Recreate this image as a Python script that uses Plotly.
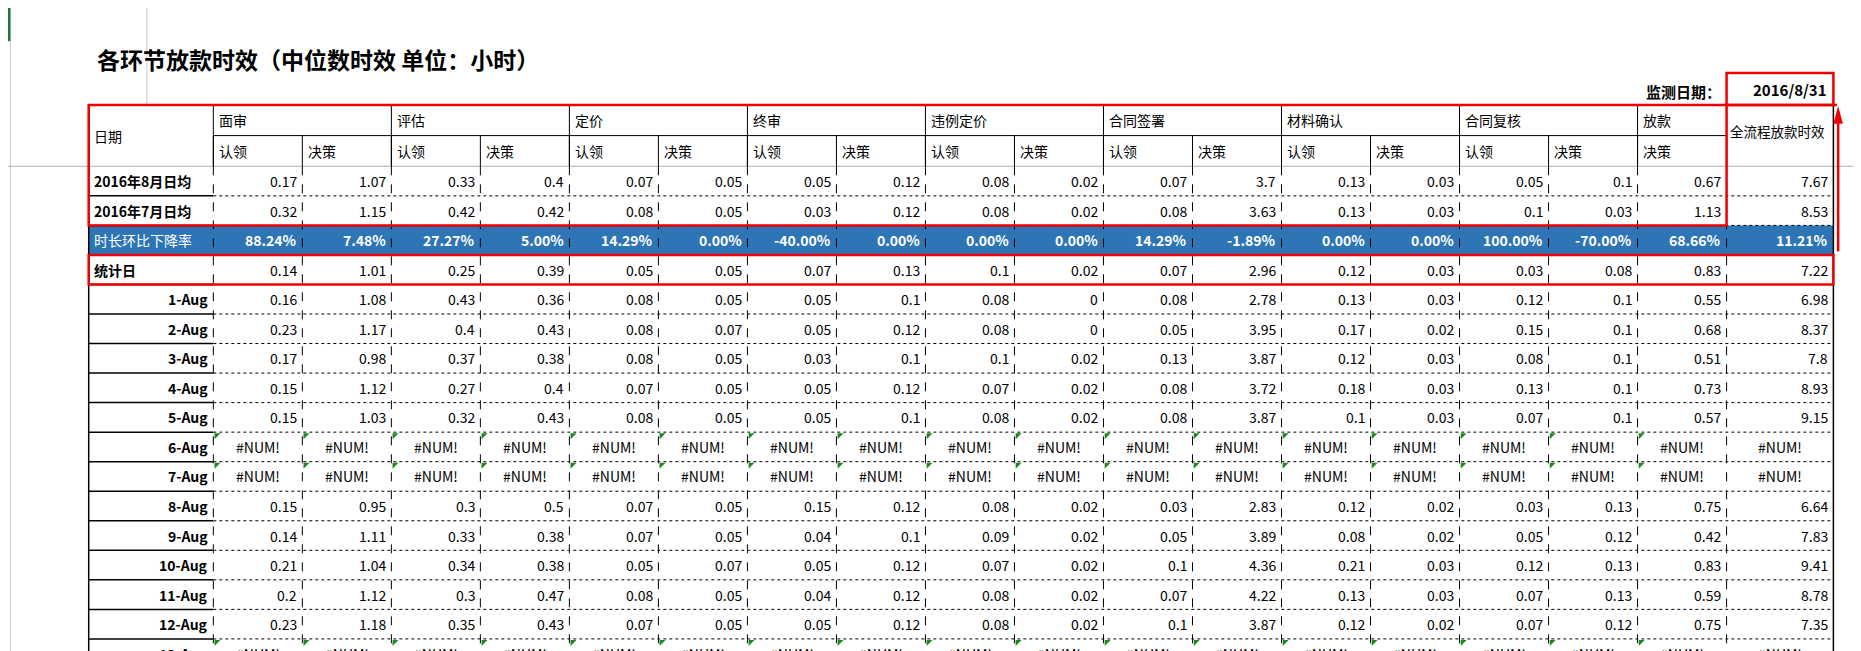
import plotly.graph_objects as go

title = "各环节放款时效（中位数时效 单位：小时）"
monitor_label = "监测日期："
monitor_date = "2016/8/31"
groups = ["面审", "评估", "定价", "终审", "违例定价", "合同签署", "材料确认", "合同复核", "放款"]
group_spans = [2, 2, 2, 2, 2, 2, 2, 2, 1]
sub_labels = ["认领", "决策"] * 8 + ["决策"]
total_label = "全流程放款时效"
row_labels = ["2016年8月日均", "2016年7月日均", "时长环比下降率", "统计日",
              "1-Aug", "2-Aug", "3-Aug", "4-Aug", "5-Aug", "6-Aug", "7-Aug",
              "8-Aug", "9-Aug", "10-Aug", "11-Aug", "12-Aug", "13-Aug"]
N = "#NUM!"
rows = [
    ["0.17","1.07","0.33","0.4","0.07","0.05","0.05","0.12","0.08","0.02","0.07","3.7","0.13","0.03","0.05","0.1","0.67","7.67"],
    ["0.32","1.15","0.42","0.42","0.08","0.05","0.03","0.12","0.08","0.02","0.08","3.63","0.13","0.03","0.1","0.03","1.13","8.53"],
    ["88.24%","7.48%","27.27%","5.00%","14.29%","0.00%","-40.00%","0.00%","0.00%","0.00%","14.29%","-1.89%","0.00%","0.00%","100.00%","-70.00%","68.66%","11.21%"],
    ["0.14","1.01","0.25","0.39","0.05","0.05","0.07","0.13","0.1","0.02","0.07","2.96","0.12","0.03","0.03","0.08","0.83","7.22"],
    ["0.16","1.08","0.43","0.36","0.08","0.05","0.05","0.1","0.08","0","0.08","2.78","0.13","0.03","0.12","0.1","0.55","6.98"],
    ["0.23","1.17","0.4","0.43","0.08","0.07","0.05","0.12","0.08","0","0.05","3.95","0.17","0.02","0.15","0.1","0.68","8.37"],
    ["0.17","0.98","0.37","0.38","0.08","0.05","0.03","0.1","0.1","0.02","0.13","3.87","0.12","0.03","0.08","0.1","0.51","7.8"],
    ["0.15","1.12","0.27","0.4","0.07","0.05","0.05","0.12","0.07","0.02","0.08","3.72","0.18","0.03","0.13","0.1","0.73","8.93"],
    ["0.15","1.03","0.32","0.43","0.08","0.05","0.05","0.1","0.08","0.02","0.08","3.87","0.1","0.03","0.07","0.1","0.57","9.15"],
    [N]*18,
    [N]*18,
    ["0.15","0.95","0.3","0.5","0.07","0.05","0.15","0.12","0.08","0.02","0.03","2.83","0.12","0.02","0.03","0.13","0.75","6.64"],
    ["0.14","1.11","0.33","0.38","0.07","0.05","0.04","0.1","0.09","0.02","0.05","3.89","0.08","0.02","0.05","0.12","0.42","7.83"],
    ["0.21","1.04","0.34","0.38","0.05","0.07","0.05","0.12","0.07","0.02","0.1","4.36","0.21","0.03","0.12","0.13","0.83","9.41"],
    ["0.2","1.12","0.3","0.47","0.08","0.05","0.04","0.12","0.08","0.02","0.07","4.22","0.13","0.03","0.07","0.13","0.59","8.78"],
    ["0.23","1.18","0.35","0.43","0.07","0.05","0.05","0.12","0.08","0.02","0.1","3.87","0.12","0.02","0.07","0.12","0.75","7.35"],
    [N]*18,
]

W, H = 1568, 551
X0, DC, SC, LC = 68, 105, 75, 90
Y0, HR, RH = 82, 26, 25
nsub = len(sub_labels)
xs = [X0 + DC + i * SC for i in range(nsub + 1)]
XL = xs[-1] + LC
ys = [Y0 + 2 * HR + i * RH for i in range(len(rows) + 1)]

FONT = "Noto Sans CJK SC, DejaVu Sans Condensed, sans-serif"
fs = 14
shapes, ann = [], []

def line(x0, y0, x1, y1, color="black", width=1, dash="solid"):
    shapes.append(dict(type="line", x0=x0, y0=y0, x1=x1, y1=y1, xref="x", yref="y",
                       line=dict(color=color, width=width, dash=dash)))

def text(x, y, t, anchor="left", color="black", bold=False, size=fs):
    ann.append(dict(x=x, y=y, xref="x", yref="y", text=f"<b>{t}</b>" if bold else t,
                    showarrow=False, xanchor=anchor, yanchor="middle",
                    font=dict(family=FONT, size=size, color=color)))

# excel gridlines
line(2, 0, 2, H, "#c8c8c8")
line(117, 0, 117, Y0, "#c8c8c8")
line(0, Y0 + 2 * HR, W, Y0 + 2 * HR, "#b0b0b0")
shapes.append(dict(type="rect", x0=0, x1=2, y0=0, y1=28, xref="x", yref="y",
                   fillcolor="#217346", line=dict(width=0)))

# blue row
shapes.append(dict(type="rect", x0=X0, x1=XL, y0=ys[2], y1=ys[3], xref="x", yref="y",
                   fillcolor="#2E75B6", line=dict(width=0), layer="below"))

# header lines
gx = [xs[0]]
for s in group_spans:
    gx.append(gx[-1] + s * SC)
line(xs[0], Y0 + HR, xs[-1], Y0 + HR)
for x in gx:
    line(x, Y0, x, Y0 + 2 * HR)
for x in xs:
    line(x, Y0 + HR, x, Y0 + 2 * HR)
line(X0, Y0, X0, H, width=1.5)
line(XL, Y0, XL, H, width=1.5)
# data grid
for y in ys[1:]:
    line(X0 + DC, y, XL, y, dash="dot")
    line(X0, y, X0 + DC, y, width=1.5)
for x in xs:
    line(x, ys[0], x, H, dash="dash")

# header texts
text(X0 + 3, Y0 + HR, "日期")
for g, x in zip(groups, gx):
    text(x + 3, Y0 + HR / 2, g)
for s, x in zip(sub_labels, xs):
    text(x + 3, Y0 + HR * 1.5, s)
text(xs[-1] + 1, Y0 + HR * 0.85, total_label, size=13.5)

for r, (lab, vals) in enumerate(zip(row_labels, rows)):
    yc = (ys[r] + ys[r + 1]) / 2
    blue = r == 2
    if r < 4:
        text(X0 + 3, yc, lab, color="white" if blue else "black", bold=not blue)
    else:
        text(X0 + DC - 3, yc, lab, anchor="right", bold=True)
    for c, v in enumerate(vals):
        left = xs[c]
        right = xs[c + 1] if c < nsub else XL
        if v == N:
            text((left + right) / 2, yc, v, anchor="center")
            if c < nsub:
                shapes.append(dict(type="path", xref="x", yref="y",
                                   path=f"M {xs[c]+1} {ys[r]+1} L {xs[c]+6} {ys[r]+1} L {xs[c]+1} {ys[r]+6} Z",
                                   fillcolor="#1a8a1a", line=dict(width=0)))
        else:
            text(right - 3, yc, v, anchor="right", color="white" if blue else "black", bold=blue)

# title & monitor date
text(73, 43, title, bold=True, size=23)
text(xs[-1] - 3, 71, monitor_label, anchor="right", bold=True, size=15)
text(XL - 4, 69, monitor_date, anchor="right", bold=True, size=15)

# red highlight boxes
red = "#ee0000"
shapes.append(dict(type="rect", x0=X0, x1=xs[-1], y0=Y0, y1=ys[2], xref="x", yref="y",
                   line=dict(color=red, width=2.5)))
shapes.append(dict(type="rect", x0=X0, x1=XL, y0=ys[3], y1=ys[4], xref="x", yref="y",
                   line=dict(color=red, width=2.5)))
shapes.append(dict(type="rect", x0=xs[-1], x1=XL, y0=55, y1=Y0, xref="x", yref="y",
                   line=dict(color=red, width=2.5)))
line(xs[-1], Y0, XL + 3, Y0, red, 2.5)
line(XL + 4, ys[2] + 22, XL + 4, Y0 + 12, red, 2.5)
shapes.append(dict(type="path", xref="x", yref="y",
                   path=f"M {XL+4} {Y0+1} L {XL} {Y0+16} L {XL+8} {Y0+16} Z",
                   fillcolor=red, line=dict(width=0)))

fig = go.Figure()
fig.update_layout(width=1861, height=651, margin=dict(l=0, r=0, t=0, b=0),
                  paper_bgcolor="white", plot_bgcolor="white",
                  xaxis=dict(range=[0, W], visible=False, fixedrange=True),
                  yaxis=dict(range=[H, 0], visible=False, fixedrange=True),
                  shapes=shapes, annotations=ann, showlegend=False)
fig.write_html("out.html")
